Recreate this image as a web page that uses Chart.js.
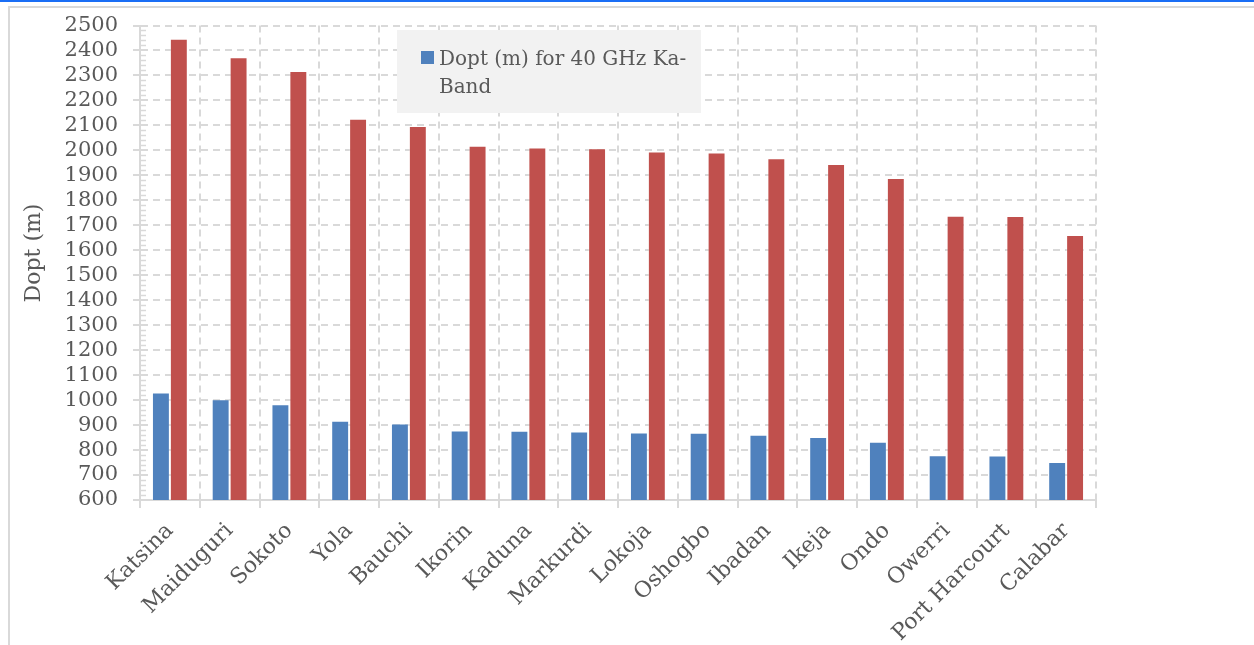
<!DOCTYPE html>
<html>
<head>
<meta charset="utf-8">
<script src="https://cdn.jsdelivr.net/npm/chart.js@4"></script>
<style>
  html, body { margin: 0; padding: 0; background: #ffffff; width: 1254px; height: 645px; overflow: hidden; }
  #topline { position: absolute; left: 0; top: 0; width: 1254px; height: 2px; background: #1a6ef5; }
  #frame { position: absolute; left: 8px; top: 6px; width: 1300px; height: 700px; border-left: 2px solid #d9d9d9; border-top: 2px solid #d9d9d9; }
  #c { position: absolute; left: 0; top: 0; }
</style>
</head>
<body>
<div id="topline"></div>
<div id="frame"></div>
<canvas id="c" width="1254" height="645"></canvas>
<script>
const categories = ['Katsina','Maiduguri','Sokoto','Yola','Bauchi','Ikorin','Kaduna','Markurdi','Lokoja','Oshogbo','Ibadan','Ikeja','Ondo','Owerri','Port Harcourt','Calabar'];
const kaBand40 = [1030,1003,983,917,906,878,877,874,870,869,861,852,833,779,778,752];
const secondSeries = [2447,2373,2318,2127,2098,2018,2011,2008,1995,1991,1968,1945,1889,1738,1737,1661];
const seriesNames = ['Dopt (m) for 40 GHz Ka-Band', 'Dopt (m)'];
const legendLines = ['Dopt (m) for 40 GHz Ka-', 'Band'];
const yTitle = 'Dopt (m)';
const yMin = 600, yMax = 2500, yStep = 100, yMinorStep = 20;

const FONT = 'DejaVu Serif';
const TEXT = '#595959';
const GRID = '#d9d9d9';

const minorTicks = {
  id: 'minorTicks',
  afterDatasetsDraw(chart) {
    const y = chart.scales.y, ctx = chart.ctx;
    const x0 = chart.chartArea.left;
    ctx.save();
    ctx.strokeStyle = GRID;
    ctx.lineWidth = 1.5;
    for (let v = yMin; v <= yMax; v += yMinorStep) {
      if (v % yStep === 0) continue;
      const py = Math.round(y.getPixelForValue(v)) + 0.5;
      ctx.beginPath();
      ctx.moveTo(x0 - 1, py);
      ctx.lineTo(x0 + 6, py);
      ctx.stroke();
    }
    ctx.restore();
  }
};

const yAxisTitle = {
  id: 'yAxisTitle',
  afterDraw(chart) {
    const ctx = chart.ctx;
    ctx.save();
    ctx.translate(34, 253);
    ctx.rotate(-Math.PI / 2);
    ctx.fillStyle = TEXT;
    ctx.font = '22px "' + FONT + '"';
    ctx.textAlign = 'center';
    ctx.textBaseline = 'middle';
    ctx.fillText(yTitle, 0, 0);
    ctx.restore();
  }
};

const boxLegend = {
  id: 'boxLegend',
  afterDraw(chart) {
    const ctx = chart.ctx;
    const bx = 397, by = 30, bw = 304, bh = 83;
    ctx.save();
    ctx.fillStyle = '#f2f2f2';
    ctx.fillRect(bx, by, bw, bh);
    ctx.fillStyle = chart.data.datasets[0].backgroundColor;
    ctx.fillRect(421, 51, 13, 13);
    ctx.fillStyle = TEXT;
    ctx.font = '20px "' + FONT + '"';
    ctx.textBaseline = 'alphabetic';
    ctx.textAlign = 'left';
    ctx.fillText(legendLines[0], 439, 65);
    ctx.fillText(legendLines[1], 439, 93);
    ctx.restore();
  }
};

new Chart(document.getElementById('c'), {
  type: 'bar',
  data: {
    labels: categories,
    datasets: [
      { label: seriesNames[0], data: kaBand40, backgroundColor: '#4f81bd', borderColor: 'rgba(255,255,255,0.3)', borderWidth: 1, categoryPercentage: 0.6, barPercentage: 1.0 },
      { label: seriesNames[1], data: secondSeries, backgroundColor: '#c0504d', borderColor: 'rgba(255,255,255,0.3)', borderWidth: 1, categoryPercentage: 0.6, barPercentage: 1.0 }
    ]
  },
  options: {
    responsive: false,
    animation: false,
    layout: { padding: { top: 15, right: 158, left: 16, bottom: 0 } },
    plugins: { legend: { display: false }, tooltip: { enabled: false }, title: { display: false } },
    scales: {
      x: {
        afterFit(s) { s.height = 145; },
        grid: { color: GRID, lineWidth: 2, tickLength: 8, offset: true, tickBorderDash: [] },
        border: { color: GRID, width: 2, dash: [7, 5] },
        ticks: { color: TEXT, font: { family: FONT, size: 22 }, minRotation: 45, maxRotation: 45, padding: 10, autoSkip: false }
      },
      y: {
        min: yMin, max: yMax,
        afterFit(s) { s.width = 124; },
        grid: { color: GRID, lineWidth: 2, tickLength: 7, tickBorderDash: [] },
        border: { color: GRID, width: 2, dash: [7, 5] },
        ticks: { stepSize: yStep, autoSkip: false, color: TEXT, font: { family: FONT, size: 21, lineHeight: 1.0 }, padding: 15,
                 callback: (v) => String(v) },
        title: { display: false }
      }
    }
  },
  plugins: [minorTicks, yAxisTitle, boxLegend]
});
</script>
</body>
</html>
